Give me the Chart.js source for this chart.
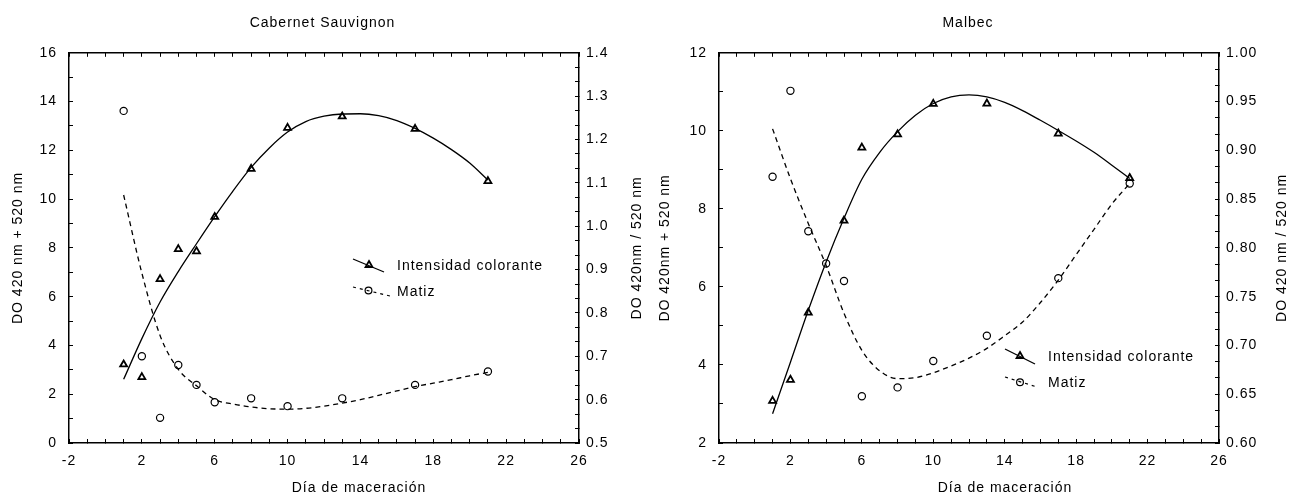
<!DOCTYPE html>
<html>
<head>
<meta charset="utf-8">
<script src="https://cdn.jsdelivr.net/npm/chart.js@4.4.1/dist/chart.umd.min.js"></script>
<style>
  html, body { margin: 0; padding: 0; background: #fff; }
  #wrap { position: relative; width: 1291px; height: 497px; }
  .panel { position: absolute; top: 0; height: 497px; }
</style>
</head>
<body>
<div id="wrap">
  <div class="panel" style="left:0;width:645px"><canvas id="cab" width="645" height="497"></canvas></div>
  <div class="panel" style="left:645px;width:646px"><canvas id="mal" width="646" height="497"></canvas></div>
</div>
<script>
// Sampling days (días de maceración)
const days = [1, 2, 3, 4, 5, 6, 8, 10, 13, 17, 21];
const malIntDays = [1, 2, 3, 5, 6, 8, 10, 13, 17, 21];
const fitDays = [1, 2, 3, 4, 5, 6, 7, 8, 9, 10, 11, 12, 13, 14, 15, 16, 17, 18, 19, 20, 21];

// Cabernet Sauvignon: measured values
const cabIntensidad = [3.22, 2.70, 6.72, 7.95, 7.86, 9.27, 11.24, 12.92, 13.39, 12.88, 10.74];
const cabMatiz = [1.266, 0.700, 0.558, 0.680, 0.634, 0.594, 0.603, 0.585, 0.603, 0.634, 0.665];
// Cabernet Sauvignon: fitted curves
const cabIntensidadFit = [2.61, 4.28, 5.78, 7.03, 8.17, 9.28, 10.33, 11.30, 12.10, 12.75, 13.18, 13.40, 13.49, 13.50, 13.42, 13.22, 12.90, 12.50, 12.03, 11.48, 10.78];
const cabMatizFit = [1.072, 0.892, 0.748, 0.670, 0.632, 0.600, 0.590, 0.583, 0.579, 0.578, 0.580, 0.585, 0.592, 0.600, 0.610, 0.620, 0.630, 0.638, 0.646, 0.655, 0.663];

// Malbec: measured values
const malIntensidad = [3.08, 3.62, 5.34, 7.70, 9.57, 9.91, 10.69, 10.70, 9.93, 8.79];
const malMatiz = [0.873, 0.961, 0.817, 0.784, 0.766, 0.648, 0.657, 0.684, 0.710, 0.769, 0.866];
// Malbec: fitted curves
const malIntensidadFit = [2.75, 4.07, 5.40, 6.64, 7.76, 8.76, 9.45, 9.98, 10.40, 10.70, 10.87, 10.92, 10.87, 10.73, 10.52, 10.27, 10.01, 9.74, 9.45, 9.12, 8.78];
const malMatizFit = [0.922, 0.871, 0.825, 0.782, 0.733, 0.695, 0.674, 0.666, 0.667, 0.672, 0.679, 0.687, 0.697, 0.710, 0.724, 0.744, 0.767, 0.793, 0.819, 0.845, 0.866];

// Axis labels
const xTitle = 'Día de maceración';
const seriesNames = ['Intensidad colorante', 'Matiz'];

const FONT = "'Liberation Sans', Arial, Helvetica, sans-serif";
const TRACK = '1px';
Chart.defaults.font.family = FONT;
Chart.defaults.font.size = 14;
Chart.defaults.color = '#000';

const pairs = (xs, ys) => xs.map((x, i) => ({ x, y: ys[i] }));

// wide-tracked lettering for all canvas text
const tracking = {
  id: 'tracking',
  beforeDraw(chart) { chart.ctx.letterSpacing = TRACK; }
};

// axis titles, all reading upward on the vertical axes
const axisTitles = {
  id: 'axisTitles',
  afterDraw(chart, args, opts) {
    const ctx = chart.ctx;
    const area = chart.chartArea;
    ctx.save();
    ctx.letterSpacing = TRACK;
    ctx.fillStyle = '#000';
    ctx.font = '14px ' + FONT;
    ctx.textAlign = 'center';
    ctx.textBaseline = 'middle';
    opts.items.forEach(it => {
      ctx.save();
      const y = it.y != null ? it.y : (area.top + area.bottom) / 2 + (it.dy || 0);
      ctx.translate(it.x, y);
      if (it.vertical) ctx.rotate(-Math.PI / 2);
      ctx.fillText(it.text, 0, 0);
      ctx.restore();
    });
    ctx.restore();
  }
};

// legend with slanted line samples
const slantLegend = {
  id: 'slantLegend',
  afterDatasetsDraw(chart, args, opts) {
    const ctx = chart.ctx;
    ctx.save();
    ctx.letterSpacing = TRACK;
    opts.items.forEach(it => {
      ctx.strokeStyle = '#000';
      ctx.lineWidth = it.lineWidth;
      ctx.setLineDash(it.dash || []);
      ctx.beginPath();
      ctx.moveTo(it.line[0], it.line[1]);
      ctx.lineTo(it.line[2], it.line[3]);
      ctx.stroke();
      ctx.setLineDash([]);
      ctx.fillStyle = 'rgba(0,0,0,0)';
      ctx.lineWidth = it.pointBorder;
      Chart.helpers.drawPoint(ctx, { pointStyle: it.pointStyle, radius: it.radius, borderWidth: it.pointBorder }, it.point[0], it.point[1]);
      ctx.fillStyle = '#000';
      ctx.font = '14px ' + FONT;
      ctx.textAlign = 'left';
      ctx.textBaseline = 'middle';
      ctx.fillText(it.text, it.textPos[0], it.textPos[1]);
    });
    ctx.restore();
  }
};

function gridOpts() {
  return {
    drawOnChartArea: false, drawTicks: true, tickLength: -4,
    tickColor: '#000', tickWidth: 1
  };
}
function borderOpts() { return { display: true, color: '#000', width: 1.5 }; }

function buildChart(canvasId, cfg) {
  const xLabel = v => ((Math.round(v) + 2) % 4 === 0 ? String(Math.round(v)) : '');
  return new Chart(document.getElementById(canvasId), {
    type: 'line',
    data: {
      datasets: [
        { label: seriesNames[0], data: pairs(cfg.intDays, cfg.intensidad), yAxisID: 'y',
          showLine: false, pointStyle: 'triangle', pointRadius: 4, pointBorderWidth: 1.8,
          pointBorderColor: '#000', pointBackgroundColor: 'rgba(0,0,0,0)' },
        { label: seriesNames[1], data: pairs(days, cfg.matiz), yAxisID: 'y2',
          showLine: false, pointStyle: 'circle', pointRadius: 3.6, pointBorderWidth: 1.2,
          pointBorderColor: '#000', pointBackgroundColor: 'rgba(0,0,0,0)' },
        { label: seriesNames[0] + ' (ajuste)', data: pairs(fitDays, cfg.intensidadFit), yAxisID: 'y',
          borderColor: '#000', borderWidth: 1.3, pointRadius: 0, cubicInterpolationMode: 'monotone', fill: false },
        { label: seriesNames[1] + ' (ajuste)', data: pairs(fitDays, cfg.matizFit), yAxisID: 'y2',
          borderColor: '#000', borderWidth: 1.3, borderDash: [5, 4], pointRadius: 0, cubicInterpolationMode: 'monotone', fill: false }
      ]
    },
    options: {
      responsive: false, animation: false, devicePixelRatio: 1,
      layout: { padding: 0 },
      plugins: {
        legend: { display: false }, tooltip: { enabled: false },
        title: { display: true, text: cfg.title, color: '#000',
          font: { size: 14, weight: 'normal', family: FONT }, padding: { top: 15, bottom: 21 } },
        slantLegend: { items: cfg.legend },
        axisTitles: { items: cfg.axisTitles }
      },
      scales: {
        x: {
          type: 'linear', position: 'bottom', min: -2, max: 26,
          ticks: { stepSize: 1, autoSkip: false, maxRotation: 0, padding: 14, callback: xLabel },
          grid: gridOpts(), border: borderOpts(),
          afterFit: s => { s.height = 54; }
        },
        xTop: {
          type: 'linear', position: 'top', min: -2, max: 26,
          ticks: { stepSize: 1, autoSkip: false, display: false },
          grid: gridOpts(), border: borderOpts(),
          afterFit: s => { s.height = 0; }
        },
        y: {
          type: 'linear', position: 'left', min: cfg.yMin, max: cfg.yMax,
          ticks: { stepSize: 1, autoSkip: false, padding: 16, callback: v => (Math.round(v) % 2 === 0 ? String(Math.round(v)) : '') },
          grid: gridOpts(), border: borderOpts(),
          afterFit: s => { s.width = cfg.leftW; }
        },
        y2: {
          type: 'linear', position: 'right', min: cfg.y2Min, max: cfg.y2Max,
          ticks: { stepSize: cfg.y2Minor, autoSkip: false, padding: 11,
            callback: v => {
              const q = v / cfg.y2Major;
              return Math.abs(q - Math.round(q)) < 1e-6 ? (Math.round(q) * cfg.y2Major).toFixed(cfg.y2Dec) : '';
            } },
          grid: gridOpts(), border: borderOpts(),
          afterFit: s => { s.width = cfg.rightW; }
        }
      }
    },
    plugins: [tracking, slantLegend, axisTitles]
  });
}

buildChart('cab', {
  title: 'Cabernet Sauvignon',
  intDays: days, intensidad: cabIntensidad, matiz: cabMatiz,
  intensidadFit: cabIntensidadFit, matizFit: cabMatizFit,
  yMin: 0, yMax: 16, y2Min: 0.5, y2Max: 1.4, y2Minor: 0.1 / 3, y2Major: 0.1, y2Dec: 1,
  leftW: 69, rightW: 66,
  axisTitles: [
    { text: xTitle, x: 359, y: 488 },
    { text: 'DO 420 nm + 520 nm', x: 18, vertical: true },
    { text: 'DO 420nm / 520 nm', x: 637, vertical: true }
  ],
  legend: [
    { text: seriesNames[0], line: [353, 259, 384, 272], lineWidth: 1.3, point: [369, 265],
      pointStyle: 'triangle', radius: 4, pointBorder: 1.8, textPos: [397, 266.5] },
    { text: seriesNames[1], line: [353, 287, 390, 296], lineWidth: 1.2, dash: [3, 4], point: [368.5, 290.5],
      pointStyle: 'circle', radius: 3.4, pointBorder: 1.2, textPos: [397, 292.5] }
  ]
});

buildChart('mal', {
  title: 'Malbec',
  intDays: malIntDays, intensidad: malIntensidad, matiz: malMatiz,
  intensidadFit: malIntensidadFit, matizFit: malMatizFit,
  yMin: 2, yMax: 12, y2Min: 0.6, y2Max: 1.0, y2Minor: 0.05 / 3, y2Major: 0.05, y2Dec: 2,
  leftW: 74, rightW: 72,
  axisTitles: [
    { text: xTitle, x: 360, y: 488 },
    { text: 'DO 420nm + 520 nm', x: 20, vertical: true },
    { text: 'DO 420 nm / 520 nm', x: 637, vertical: true }
  ],
  legend: [
    { text: seriesNames[0], line: [360, 349, 390, 364], lineWidth: 1.3, point: [375, 356],
      pointStyle: 'triangle', radius: 4, pointBorder: 1.8, textPos: [403, 357.5] },
    { text: seriesNames[1], line: [360, 377, 392, 387], lineWidth: 1.2, dash: [3, 4], point: [375, 382.3],
      pointStyle: 'circle', radius: 3.4, pointBorder: 1.2, textPos: [403, 383.5] }
  ]
});
</script>
</body>
</html>
